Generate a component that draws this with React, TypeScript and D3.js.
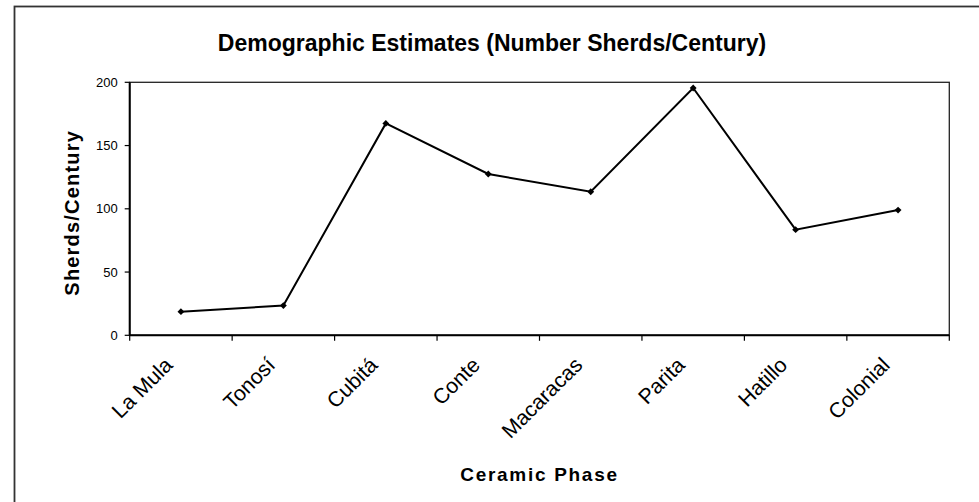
import React from "react";
import * as d3 from "d3";

const categories = ["La Mula", "Tonosí", "Cubitá", "Conte", "Macaracas", "Parita", "Hatillo", "Colonial"];
const sherdsPerCentury = [18.7, 23.5, 167.5, 127.5, 113.5, 195.5, 83.5, 99];
const yTicks = [0, 50, 100, 150, 200];
const chartTitle = "Demographic Estimates (Number Sherds/Century)";
const xTitle = "Ceramic Phase";
const yTitle = "Sherds/Century";

const W = 979;
const H = 502;
const plot = { left: 129.7, right: 949.3, top: 82.3, bottom: 335.3 };

export default function App() {
  const x = d3.scaleBand<string>().domain(categories).range([plot.left, plot.right]).padding(0);
  const y = d3.scaleLinear().domain([0, 200]).range([plot.bottom, plot.top]);
  const cx = (c: string) => (x(c) as number) + x.bandwidth() / 2;
  const line = d3
    .line<number>()
    .x((_, i) => cx(categories[i]))
    .y((d) => y(d));
  const diamond = d3.symbol().type(d3.symbolDiamond2).size(30)();
  const boundaries = categories.map((c) => x(c) as number).concat([plot.right]);
  const font = "'Liberation Sans', Arial, sans-serif";

  return (
    <div>
      <style>{`body{margin:0}`}</style>
      <svg width={W} height={H} style={{ display: "block", background: "#fff" }} fontFamily={font}>
        <rect x={0} y={0} width={W} height={H} fill="#fff" />
        <rect x={14.5} y={6.5} width={W + 20} height={H + 20} fill="none" stroke="#333" strokeWidth={1.8} />
        <text x={492} y={51} textAnchor="middle" fontSize={23} fontWeight="bold" fill="#000">
          {chartTitle}
        </text>
        {/* plot frame */}
        <rect
          x={plot.left}
          y={plot.top}
          width={plot.right - plot.left}
          height={plot.bottom - plot.top}
          fill="#fff"
          stroke="#222"
          strokeWidth={1.3}
        />
        {/* axes */}
        <line x1={plot.left} x2={plot.left} y1={plot.top} y2={plot.bottom} stroke="#000" strokeWidth={2} />
        <line x1={plot.left} x2={plot.right} y1={plot.bottom} y2={plot.bottom} stroke="#000" strokeWidth={2} />
        {yTicks.map((t) => (
          <g key={t}>
            <line x1={plot.left - 5} x2={plot.left} y1={y(t)} y2={y(t)} stroke="#000" strokeWidth={1.2} />
            <text x={plot.left - 12} y={y(t) + 4.5} textAnchor="end" fontSize={13} fill="#000">
              {t}
            </text>
          </g>
        ))}
        {boundaries.map((b, i) => (
          <line key={i} x1={b} x2={b} y1={plot.bottom} y2={plot.bottom + 5.5} stroke="#000" strokeWidth={1.2} />
        ))}
        {categories.map((c) => (
          <text
            key={c}
            transform={`translate(${cx(c) - 7},${plot.bottom + 31}) rotate(-45)`}
            textAnchor="end"
            fontSize={21.2}
            fill="#000"
          >
            {c}
          </text>
        ))}
        <path d={line(sherdsPerCentury) as string} fill="none" stroke="#000" strokeWidth={2} />
        {sherdsPerCentury.map((v, i) => (
          <path key={i} d={diamond as string} transform={`translate(${cx(categories[i])},${y(v)})`} fill="#000" />
        ))}
        <text
          x={(plot.left + plot.right) / 2}
          y={481}
          textAnchor="middle"
          fontSize={19}
          fontWeight="bold"
          letterSpacing={1.7}
          fill="#000"
        >
          {xTitle}
        </text>
        <text
          transform={`translate(79,${(plot.top + plot.bottom) / 2 + 4}) rotate(-90)`}
          textAnchor="middle"
          fontSize={20}
          fontWeight="bold"
          letterSpacing={1.2}
          fill="#000"
        >
          {yTitle}
        </text>
      </svg>
    </div>
  );
}
